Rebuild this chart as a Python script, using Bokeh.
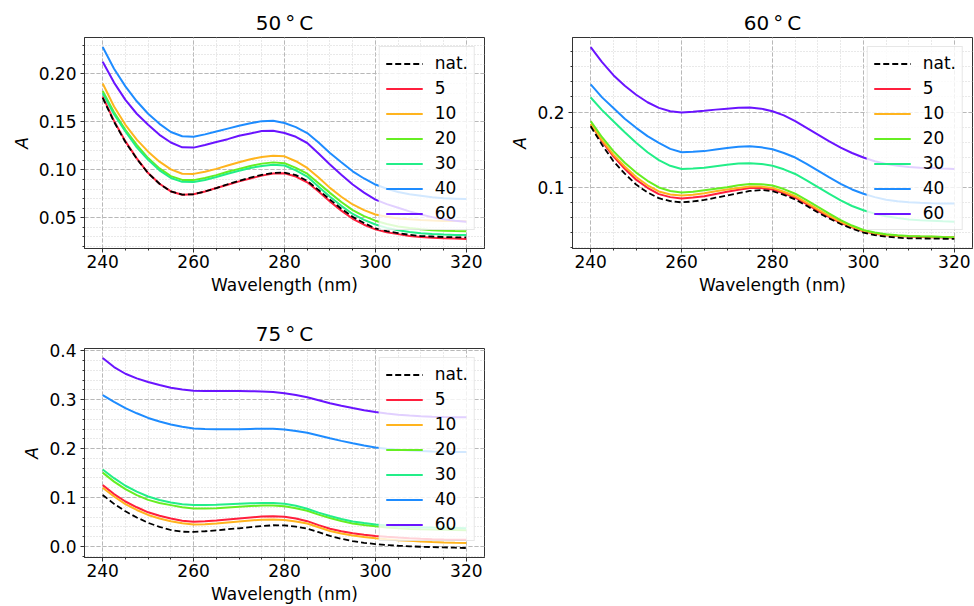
from bokeh.plotting import figure
from bokeh.models import Range1d, FixedTicker, NumeralTickFormatter, Legend, LegendItem
from bokeh.layouts import column, row
from bokeh.embed import file_html
from bokeh.resources import INLINE

# ---------------- data ----------------
wavelength = [240, 242.5, 245, 247.5, 250, 252.5, 255, 257.5, 260, 262.5, 265, 267.5, 270,
              272.5, 275, 277.5, 280, 282.5, 285, 287.5, 290, 292.5, 295, 297.5, 300,
              302.5, 305, 307.5, 310, 312.5, 315, 317.5, 320]

labels = ["nat.", "5", "10", "20", "30", "40", "60"]
colors = ["black", "#ff1f3d", "#ffb41e", "#66ee22", "#22ee88", "#1e8cff", "#6a14ff"]

# 50 C
a50_nat = [0.175, 0.150, 0.129, 0.1115, 0.0965, 0.0855, 0.0775, 0.0742, 0.0745, 0.0775, 0.081,
           0.085, 0.0885, 0.092, 0.0948, 0.0968, 0.0972, 0.0945, 0.0885, 0.079, 0.069, 0.0595,
           0.051, 0.0445, 0.039, 0.036, 0.034, 0.0323, 0.031, 0.0305, 0.030, 0.0297, 0.0295]
a50_5 = [0.1764, 0.151, 0.1297, 0.112, 0.0967, 0.0855, 0.0775, 0.074, 0.0745, 0.0775, 0.081,
         0.0845, 0.088, 0.091, 0.094, 0.0962, 0.0965, 0.093, 0.087, 0.0775, 0.067, 0.0575,
         0.049, 0.0428, 0.038, 0.035, 0.033, 0.031, 0.030, 0.0293, 0.0288, 0.0284, 0.028]
a50_10 = [0.190, 0.166, 0.147, 0.1315, 0.119, 0.1085, 0.1005, 0.096, 0.0958, 0.098, 0.101,
          0.1045, 0.108, 0.111, 0.1135, 0.1148, 0.1141, 0.109, 0.102, 0.092, 0.0812, 0.072,
          0.0639, 0.058, 0.0535, 0.051, 0.0494, 0.0484, 0.0477, 0.0472, 0.0468, 0.0466, 0.0465]
a50_20 = [0.1823, 0.160, 0.1418, 0.126, 0.1123, 0.1015, 0.0935, 0.0895, 0.0893, 0.0915, 0.0945,
          0.098, 0.101, 0.104, 0.1065, 0.1078, 0.107, 0.102, 0.096, 0.086, 0.076, 0.0665,
          0.058, 0.0517, 0.047, 0.0435, 0.041, 0.0393, 0.038, 0.037, 0.0365, 0.0362, 0.036]
a50_30 = [0.180, 0.158, 0.140, 0.1235, 0.1105, 0.0995, 0.0915, 0.0875, 0.0873, 0.0895, 0.0925,
          0.096, 0.099, 0.102, 0.104, 0.1053, 0.1045, 0.0995, 0.093, 0.0825, 0.072, 0.0625,
          0.054, 0.0478, 0.043, 0.0395, 0.037, 0.0353, 0.034, 0.0332, 0.0325, 0.0322, 0.032]
a50_40 = [0.228, 0.2055, 0.187, 0.1715, 0.1585, 0.148, 0.1395, 0.135, 0.1345, 0.137, 0.140,
          0.143, 0.146, 0.1485, 0.1508, 0.1512, 0.1488, 0.1445, 0.1384, 0.1285, 0.1176, 0.108,
          0.0985, 0.091, 0.0847, 0.0803, 0.077, 0.0745, 0.073, 0.0715, 0.0705, 0.070, 0.0695]
a50_60 = [0.2128, 0.191, 0.173, 0.1585, 0.147, 0.1365, 0.1285, 0.1235, 0.1232, 0.126, 0.129,
          0.132, 0.1355, 0.138, 0.1405, 0.1408, 0.1384, 0.1345, 0.128, 0.117, 0.1055, 0.095,
          0.0847, 0.0762, 0.069, 0.0643, 0.0605, 0.0567, 0.0535, 0.0507, 0.0485, 0.047, 0.046]

# 60 C
a60_nat = [0.181, 0.1565, 0.1345, 0.118, 0.1035, 0.093, 0.0853, 0.0815, 0.0798, 0.081, 0.083,
           0.086, 0.089, 0.092, 0.095, 0.0963, 0.0947, 0.0898, 0.0838, 0.0752, 0.0663, 0.0583,
           0.051, 0.0448, 0.0395, 0.0363, 0.0342, 0.0328, 0.032, 0.0318, 0.0316, 0.0314, 0.0312]
a60_5 = [0.184, 0.161, 0.141, 0.1245, 0.110, 0.0992, 0.0908, 0.0868, 0.085, 0.0862, 0.088,
         0.091, 0.094, 0.0967, 0.0988, 0.0988, 0.097, 0.092, 0.086, 0.0775, 0.0685, 0.0603,
         0.0527, 0.0465, 0.0413, 0.0382, 0.036, 0.035, 0.0343, 0.0338, 0.0334, 0.0332, 0.033]
a60_10 = [0.1842, 0.1625, 0.1434, 0.1275, 0.1136, 0.1025, 0.0943, 0.0903, 0.0888, 0.090, 0.092,
          0.0945, 0.097, 0.099, 0.101, 0.1008, 0.0991, 0.094, 0.088, 0.0795, 0.0706, 0.062,
          0.054, 0.0475, 0.042, 0.0388, 0.0365, 0.0354, 0.0347, 0.0343, 0.034, 0.0337, 0.0334]
a60_20 = [0.1878, 0.1665, 0.148, 0.1325, 0.1194, 0.1085, 0.0997, 0.095, 0.0928, 0.094, 0.096,
          0.098, 0.100, 0.1025, 0.1043, 0.104, 0.1022, 0.0975, 0.0913, 0.0828, 0.0737, 0.0647,
          0.0562, 0.049, 0.043, 0.0397, 0.0374, 0.036, 0.0351, 0.0346, 0.0343, 0.0338, 0.0334]
a60_30 = [0.2193, 0.2025, 0.1878, 0.173, 0.159, 0.1465, 0.136, 0.1285, 0.1242, 0.125, 0.126,
          0.128, 0.130, 0.1315, 0.132, 0.131, 0.1286, 0.1238, 0.1176, 0.109, 0.100, 0.091,
          0.0825, 0.075, 0.0693, 0.0648, 0.0614, 0.059, 0.057, 0.056, 0.0553, 0.0546, 0.054]
a60_40 = [0.2368, 0.2195, 0.2053, 0.191, 0.179, 0.168, 0.159, 0.151, 0.1465, 0.147, 0.148,
          0.150, 0.152, 0.1538, 0.1545, 0.153, 0.1505, 0.1455, 0.1395, 0.131, 0.122, 0.113,
          0.1045, 0.097, 0.0913, 0.0868, 0.0834, 0.0813, 0.080, 0.0792, 0.0787, 0.0784, 0.0782]
a60_60 = [0.2864, 0.2665, 0.249, 0.235, 0.223, 0.213, 0.2055, 0.201, 0.1995, 0.2005, 0.2018,
          0.2032, 0.2045, 0.2057, 0.206, 0.2045, 0.201, 0.1955, 0.1878, 0.179, 0.170, 0.161,
          0.1526, 0.1455, 0.1395, 0.1345, 0.1308, 0.1285, 0.127, 0.126, 0.1255, 0.1248, 0.1242]

# 75 C
a75_nat = [0.1052, 0.087, 0.0717, 0.0592, 0.0482, 0.040, 0.0335, 0.030, 0.0295, 0.031, 0.0328,
           0.035, 0.037, 0.0393, 0.0415, 0.0432, 0.043, 0.0405, 0.0362, 0.029, 0.0214, 0.0155,
           0.0107, 0.0073, 0.0047, 0.0028, 0.0013, 0.0002, -0.0007, -0.0014, -0.002, -0.0027, -0.0033]
a75_5 = [0.1253, 0.107, 0.0918, 0.080, 0.0697, 0.0625, 0.0569, 0.0525, 0.0503, 0.0512, 0.053,
         0.055, 0.057, 0.059, 0.061, 0.0615, 0.0605, 0.057, 0.0516, 0.0435, 0.0362, 0.031,
         0.0268, 0.0237, 0.0214, 0.0195, 0.018, 0.0166, 0.0154, 0.0146, 0.014, 0.0136, 0.0134]
a75_10 = [0.120, 0.102, 0.0864, 0.0745, 0.0643, 0.0572, 0.0516, 0.0472, 0.0449, 0.0455, 0.047,
          0.049, 0.051, 0.053, 0.0545, 0.0549, 0.054, 0.051, 0.0469, 0.039, 0.0315, 0.0262,
          0.0221, 0.0192, 0.0168, 0.0147, 0.0127, 0.0113, 0.0101, 0.009, 0.008, 0.0073, 0.0067]
a75_20 = [0.1508, 0.1325, 0.1172, 0.105, 0.0951, 0.0888, 0.0844, 0.080, 0.0777, 0.0775, 0.078,
          0.0795, 0.081, 0.0825, 0.0835, 0.0835, 0.082, 0.078, 0.073, 0.065, 0.058, 0.052,
          0.047, 0.0437, 0.041, 0.0388, 0.037, 0.0358, 0.035, 0.0344, 0.034, 0.0335, 0.033]
a75_30 = [0.1574, 0.1395, 0.124, 0.112, 0.102, 0.095, 0.0898, 0.086, 0.0844, 0.0845, 0.085,
          0.086, 0.087, 0.088, 0.0885, 0.0885, 0.087, 0.083, 0.077, 0.069, 0.062, 0.056,
          0.051, 0.0477, 0.045, 0.0427, 0.041, 0.0398, 0.039, 0.0384, 0.038, 0.0375, 0.037]
a75_40 = [0.3095, 0.2955, 0.2828, 0.2722, 0.2627, 0.2555, 0.2492, 0.2447, 0.2412, 0.240, 0.2395,
          0.2394, 0.2395, 0.2402, 0.2408, 0.2408, 0.2392, 0.2362, 0.2325, 0.2268, 0.2211, 0.2158,
          0.211, 0.2063, 0.2023, 0.1996, 0.1976, 0.1961, 0.195, 0.1942, 0.1936, 0.1932, 0.193]
a75_60 = [0.3853, 0.3668, 0.3531, 0.3437, 0.3363, 0.330, 0.3243, 0.3207, 0.3183, 0.3178, 0.3176,
          0.3176, 0.3176, 0.3175, 0.317, 0.3158, 0.313, 0.3095, 0.305, 0.299, 0.2928, 0.2875,
          0.2829, 0.2785, 0.2747, 0.2717, 0.2693, 0.2675, 0.266, 0.2652, 0.2646, 0.2642, 0.264]

x_ticks = [240, 260, 280, 300, 320]
x_minor = [240, 245, 250, 255, 260, 265, 270, 275, 280, 285, 290, 295, 300, 305, 310, 315, 320]
y50_ticks = [0.05, 0.10, 0.15, 0.20]
y50_minor = [0.02, 0.03, 0.04, 0.05, 0.06, 0.07, 0.08, 0.09, 0.10, 0.11, 0.12, 0.13, 0.14,
             0.15, 0.16, 0.17, 0.18, 0.19, 0.20, 0.21, 0.22, 0.23]
y60_ticks = [0.1, 0.2]
y60_minor = [0.02, 0.04, 0.06, 0.08, 0.10, 0.12, 0.14, 0.16, 0.18, 0.20, 0.22, 0.24, 0.26, 0.28]
y75_ticks = [0.0, 0.1, 0.2, 0.3, 0.4]
y75_minor = [-0.02, 0.0, 0.02, 0.04, 0.06, 0.08, 0.10, 0.12, 0.14, 0.16, 0.18, 0.20, 0.22,
             0.24, 0.26, 0.28, 0.30, 0.32, 0.34, 0.36, 0.38, 0.40]

FONT = "DejaVu Sans"


def make_panel(title, series, yticks, yminor, yfmt, width, height, bl, br, bt, bb):
    p = figure(width=width, height=height, output_backend="svg", toolbar_location=None,
               min_border_left=bl, min_border_right=br, min_border_top=bt, min_border_bottom=bb,
               x_range=Range1d(236, 324))
    allv = [v for s in series for v in s]
    lo, hi = min(allv), max(allv)
    pad = 0.05 * (hi - lo)
    p.y_range = Range1d(lo - pad, hi + pad)

    p.title.text = title
    p.title.text_font = FONT
    p.title.text_font_size = "20px"
    p.title.text_font_style = "normal"
    p.title.text_color = "black"
    p.title.align = "center"
    p.title.standoff = 6

    p.outline_line_color = "#333333"
    p.outline_line_width = 1
    p.background_fill_color = "white"

    for ax, ticks, minor in ((p.xaxis, x_ticks, x_minor), (p.yaxis, yticks, yminor)):
        ax.ticker = FixedTicker(ticks=ticks, minor_ticks=minor)
        ax.major_label_text_font = FONT
        ax.major_label_text_font_size = "17px"
        ax.major_label_text_color = "black"
        ax.axis_label_text_font = FONT
        ax.axis_label_text_font_size = "17px"
        ax.axis_label_text_color = "black"
        ax.axis_line_color = "#333333"
        ax.major_tick_line_color = "#333333"
        ax.minor_tick_line_color = "#333333"
        ax.major_tick_out = 4
        ax.major_tick_in = 0
        ax.minor_tick_out = 2
        ax.minor_tick_in = 0

    p.xaxis.major_label_standoff = 2
    p.xaxis.axis_label_standoff = 4
    p.xaxis.axis_label = "Wavelength (nm)"
    p.xaxis.axis_label_text_font_style = "normal"
    p.yaxis.axis_label = "A"
    p.yaxis.axis_label_text_font_style = "italic"
    p.yaxis.formatter = NumeralTickFormatter(format=yfmt)
    p.yaxis.major_label_standoff = 4
    p.yaxis.axis_label_standoff = 4

    for g in (p.xgrid, p.ygrid):
        g.grid_line_color = "#b8b8b8"
        g.grid_line_dash = "4 2"
        g.grid_line_width = 1
        g.minor_grid_line_color = "#d2d2d2"
        g.minor_grid_line_dash = "1 2"
        g.minor_grid_line_width = 1

    rends = {}
    order = list(range(1, 7)) + [0]
    for i in order:
        if i == 0:
            r = p.line(wavelength, series[i], line_color=colors[i], line_width=1.8, line_dash="6 3")
        else:
            r = p.line(wavelength, series[i], line_color=colors[i], line_width=2)
        rends[i] = r

    items = [LegendItem(label=labels[i], renderers=[rends[i]]) for i in range(7)]
    leg = Legend(items=items, location="top_right")
    leg.margin = 9
    leg.padding = 6
    leg.spacing = 5
    leg.label_height = 19
    leg.glyph_height = 19
    leg.glyph_width = 37
    leg.label_standoff = 12
    leg.label_text_font = FONT
    leg.label_text_font_size = "17px"
    leg.label_text_color = "black"
    leg.background_fill_color = "white"
    leg.background_fill_alpha = 0.8
    leg.border_line_color = "#d0d0d0"
    leg.border_line_width = 1
    p.add_layout(leg, "center")
    return p


p50 = make_panel("50\u2009°\u2009C", [a50_nat, a50_5, a50_10, a50_20, a50_30, a50_40, a50_60],
                 y50_ticks, y50_minor, "0.00", 490, 298, 84, 6, 37, 50)
p60 = make_panel("60\u2009°\u2009C", [a60_nat, a60_5, a60_10, a60_20, a60_30, a60_40, a60_60],
                 y60_ticks, y60_minor, "0.0", 484, 298, 82, 2, 37, 50)
p75 = make_panel("75\u2009°\u2009C", [a75_nat, a75_5, a75_10, a75_20, a75_30, a75_40, a75_60],
                 y75_ticks, y75_minor, "0.0", 490, 308, 84, 6, 50, 49)

layout = column(row(p50, p60), p75)
open("out.html", "w").write(file_html(layout, INLINE))
